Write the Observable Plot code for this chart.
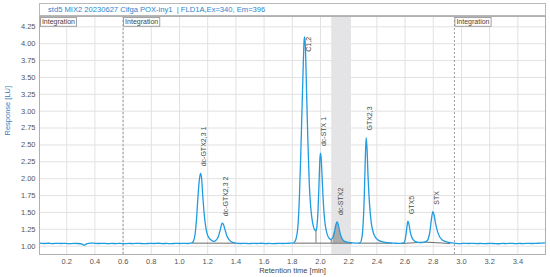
<!DOCTYPE html>
<html>
<head>
<meta charset="utf-8">
<script src="https://cdn.jsdelivr.net/npm/d3@7"></script>
<script src="https://cdn.jsdelivr.net/npm/@observablehq/plot@0.6"></script>
<style>
  html, body { margin: 0; padding: 0; background: #fff; }
  #wrap { position: relative; width: 550px; height: 277px; overflow: hidden; }
  #title { position: absolute; top: 3px; left: 39px; width: 497px; height: 11px; border: 1px solid #b8b8b8;
           font: 7.6px "Liberation Sans", Arial, sans-serif; color: #1f86cf; line-height: 11px; padding-left: 8px; background: #fff; z-index: 2; white-space: nowrap; }
  #chart { position: absolute; top: 0; left: 0; }
</style>
</head>
<body>
<div id="wrap">
  <div id="chart"></div>
  <div id="title">std5 MIX2 20230627 Cifga POX-iny1&nbsp; | FLD1A,Ex=340, Em=396</div>
</div>
<script>
// Retention time [min] and response [LU]
const times = [
  0.01,0.04,0.07,0.10,0.13,0.16,0.19,0.22,0.25,0.28,0.31,0.325,0.34,0.37,0.40,0.43,0.46,0.49,0.52,0.55,
  0.58,0.61,0.64,0.67,0.70,0.73,0.76,0.79,0.82,0.85,0.88,0.91,0.94,0.97,1.00,1.03,1.06,1.08,
  1.09,1.10,1.11,1.12,1.13,1.14,1.149,1.157,1.165,1.175,1.185,1.195,1.21,1.225,1.243,
  1.26,1.275,1.29,1.30,1.305,1.312,1.322,1.335,1.35,1.365,1.38,1.40,
  1.43,1.46,1.49,1.52,1.55,1.58,1.61,1.64,1.67,1.70,1.73,1.76,1.79,
  1.81,1.825,1.84,1.85,1.86,1.87,1.878,1.884,1.888,1.893,1.90,1.91,1.92,1.93,1.94,1.95,1.96,1.968,
  1.975,1.983,1.99,1.996,2.00,2.005,2.012,2.02,2.03,2.04,2.05,2.06,2.075,
  2.09,2.10,2.11,2.118,2.125,2.135,2.145,2.16,2.18,2.20,2.23,2.26,
  2.28,2.29,2.30,2.31,2.318,2.324,2.33,2.338,2.348,2.36,2.375,2.39,2.41,2.43,2.46,2.49,2.52,2.55,2.58,
  2.595,2.605,2.614,2.62,2.627,2.637,2.65,2.665,2.68,2.70,2.72,2.745,
  2.76,2.775,2.787,2.797,2.805,2.815,2.83,2.845,2.86,2.88,2.90,2.93,2.96,
  2.99,3.02,3.05,3.08,3.11,3.14,3.17,3.20,3.23,3.26,3.29,3.32,3.35,3.38,3.41,3.44,3.47,3.50,3.53,3.56,3.59
];
const response = [
  1.045,1.040,1.044,1.038,1.043,1.040,1.042,1.037,1.042,1.040,1.030,1.015,1.035,1.047,1.042,1.040,1.043,1.038,1.041,1.039,
  1.042,1.037,1.041,1.039,1.043,1.040,1.038,1.042,1.040,1.044,1.039,1.041,1.038,1.042,1.040,1.042,1.040,1.045,
  1.05,1.08,1.17,1.38,1.70,1.97,2.08,2.00,1.75,1.48,1.30,1.19,1.12,1.09,1.07,
  1.09,1.14,1.25,1.33,1.34,1.32,1.25,1.16,1.10,1.07,1.055,1.045,
  1.040,1.043,1.038,1.042,1.040,1.044,1.039,1.041,1.038,1.042,1.040,1.043,1.045,
  1.05,1.10,1.30,1.70,2.35,3.10,3.70,4.05,4.10,3.95,3.40,2.60,1.95,1.60,1.40,1.29,1.24,1.23,
  1.30,1.55,1.95,2.30,2.38,2.30,2.00,1.65,1.38,1.24,1.16,1.12,1.10,
  1.14,1.22,1.32,1.36,1.33,1.23,1.15,1.09,1.065,1.055,1.048,1.045,
  1.05,1.09,1.25,1.70,2.30,2.61,2.45,2.00,1.62,1.35,1.20,1.13,1.09,1.07,1.055,1.048,1.045,1.042,1.045,
  1.06,1.15,1.30,1.37,1.33,1.21,1.12,1.08,1.065,1.055,1.055,1.065,
  1.09,1.20,1.40,1.51,1.47,1.35,1.22,1.14,1.10,1.075,1.06,1.05,1.042,
  1.038,1.043,1.040,1.042,1.039,1.041,1.038,1.042,1.040,1.036,1.041,1.039,1.043,1.038,1.041,1.039,1.042,1.040,1.043,1.045,1.05
];

// Peak annotations
const peakNames = ["dc-GTX2,3 1","dc-GTX2,3 2","dc-STX 1","dc-STX2","GTX2,3","GTX5","STX"];
const peakTimes = [1.149, 1.305, 2.00, 2.118, 2.324, 2.62, 2.797];
const peakHeights = [2.08, 1.34, 2.38, 1.36, 2.61, 1.37, 1.51];
const topPeakName = ["C1,2"];
const topPeakTime = [1.888];
const topPeakHeight = [4.10];

// Integration events
const integrationTimes = [0.01, 0.6, 2.95];
const integrationLines = [0.6, 2.95];

// Integration baselines [t1, v1, t2, v2]
const baseT1 = [1.09, 1.81, 2.27, 2.57, 2.75];
const baseV1 = [1.045, 1.045, 1.045, 1.04, 1.06];
const baseT2 = [1.40, 2.225, 2.51, 2.75, 2.92];
const baseV2 = [1.045, 1.045, 1.045, 1.06, 1.04];
// Drop lines between co-eluting peaks
const dropTimes = [1.968, 2.076];
const dropTops = [1.23, 1.10];
const dropBase = 1.045;

// Highlighted window and filled peak
const bandStart = 2.08, bandEnd = 2.22;
const fillStart = 2.076, fillEnd = 2.20;

// Ticks
const xTicks = [0.2,0.4,0.6,0.8,1.0,1.2,1.4,1.6,1.8,2.0,2.2,2.4,2.6,2.8,3.0,3.2,3.4];
const yTicks = [1.00,1.25,1.50,1.75,2.00,2.25,2.50,2.75,3.00,3.25,3.50,3.75,4.00,4.25];

const data = times.map((t, i) => ({t, v: response[i]}));
const peaks = peakNames.map((n, i) => ({n, t: peakTimes[i], v: peakHeights[i]}));
const topPeak = topPeakName.map((n, i) => ({n, t: topPeakTime[i], v: topPeakHeight[i]}));
const baselines = baseT1.map((t, i) => ({x1: t, y1: baseV1[i], x2: baseT2[i], y2: baseV2[i]}));
const drops = dropTimes.map((t, i) => ({t, y1: dropBase, y2: dropTops[i]}));
const fillData = data.filter(d => d.t >= fillStart && d.t <= fillEnd);

const font = "'Liberation Sans', Arial, sans-serif";
const lineColor = "#1f9be0";

const chart = Plot.plot({
  width: 550, height: 277,
  marginLeft: 39, marginRight: 5, marginTop: 16, marginBottom: 23,
  x: {domain: [0.007, 3.596]},
  y: {domain: [0.877, 4.403]},
  style: {fontFamily: font, fontSize: "7.5px", color: "#555", background: "#fff"},
  marks: [
    Plot.ruleX(xTicks, {stroke: "#e2e2e2"}),
    Plot.ruleY(yTicks, {stroke: "#e2e2e2"}),
    Plot.rect([{x1: bandStart, x2: bandEnd}], {x1: "x1", x2: "x2", fill: "#e4e4e6"}),
    Plot.ruleX(integrationLines, {stroke: "#9a9aa8", strokeDasharray: "2,2"}),
    Plot.areaY(fillData, {x: "t", y1: dropBase, y2: "v", fill: "#ababab", curve: "monotone-x"}),
    Plot.link(baselines, {x1: "x1", y1: "y1", x2: "x2", y2: "y2", stroke: "#6a6a6a", strokeWidth: 1}),
    Plot.ruleX(drops, {x: "t", y1: "y1", y2: "y2", stroke: "#777", strokeWidth: 1}),
    Plot.line(data, {x: "t", y: "v", stroke: lineColor, strokeWidth: 1.3, curve: "monotone-x"}),
    Plot.text(peaks, {x: "t", y: "v", text: "n", rotate: -90, textAnchor: "start", lineAnchor: "middle",
                      dx: 3.5, dy: -7, fill: "#4a4a4a", fontSize: 7}),
    Plot.text(topPeak, {x: "t", y: "v", text: "n", rotate: -90, textAnchor: "end", lineAnchor: "middle",
                        dx: 4.5, dy: 0, fill: "#4a4a4a", fontSize: 7}),
    Plot.frame({stroke: "#b0b0b0"}),
    Plot.axisX(xTicks, {tickSize: 0, tickPadding: 4, tickFormat: d => d.toFixed(1), label: null, fill: "#555"}),
    Plot.axisY(yTicks, {tickSize: 0, tickPadding: 4, tickFormat: d => d.toFixed(2), label: null, fill: "#555"}),
    Plot.text(["Retention time [min]"], {frameAnchor: "bottom", dy: 16, lineAnchor: "middle", fill: "#444", fontSize: 7.5}),
    Plot.text(["Response [LU]"], {frameAnchor: "left", dx: -32, rotate: -90, lineAnchor: "middle", fill: "#3b78b8", fontSize: 7.5}),
    Plot.text(integrationTimes, {x: d => d, frameAnchor: "top", textAnchor: "start", lineAnchor: "middle",
                                 dx: 2, dy: 5.2, text: () => "Integration", fill: "#444", fontSize: 7, className: "integ"})
  ]
});
document.getElementById("chart").appendChild(chart);

// draw boxes behind the "Integration" labels
const svg = chart.tagName.toLowerCase() === "svg" ? chart : chart.querySelector("svg");
svg.querySelectorAll("g.integ text").forEach(t => {
  const b = t.getBBox();
  const r = document.createElementNS("http://www.w3.org/2000/svg", "rect");
  r.setAttribute("x", b.x - 1.5);
  r.setAttribute("y", b.y - 0.3);
  r.setAttribute("width", b.width + 3);
  r.setAttribute("height", b.height + 0.6);
  r.setAttribute("fill", "#fff");
  r.setAttribute("stroke", "#8a8a8a");
  r.setAttribute("stroke-width", "0.8");
  if (t.getAttribute("transform")) r.setAttribute("transform", t.getAttribute("transform"));
  t.parentNode.insertBefore(r, t);
});
</script>
</body>
</html>
